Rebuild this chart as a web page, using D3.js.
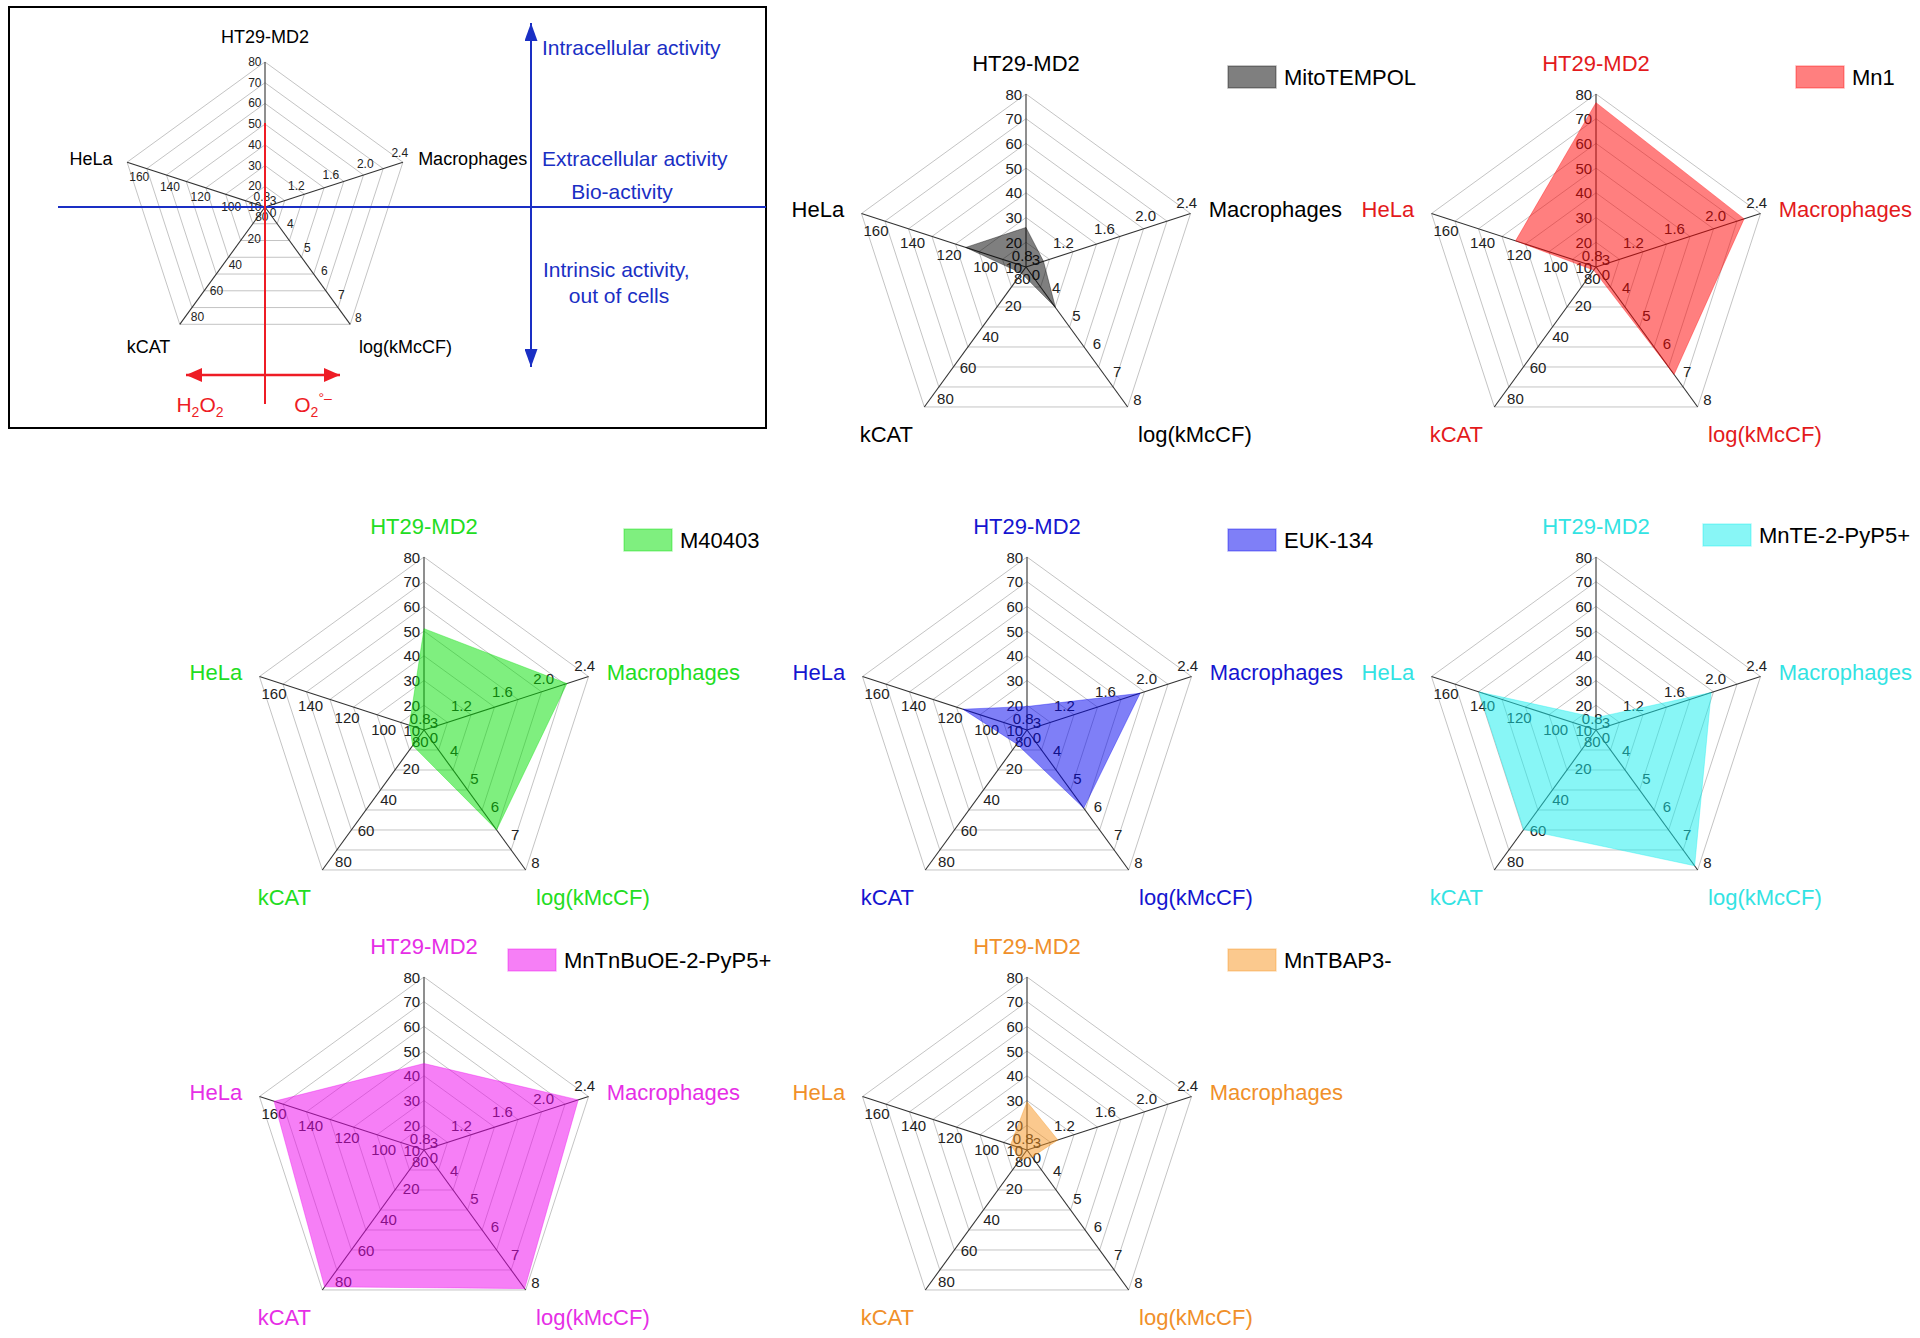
<!DOCTYPE html>
<html>
<head>
<meta charset="utf-8">
<script src="https://cdn.jsdelivr.net/npm/d3@7"></script>
<style>
  body { margin: 0; background: #fff; }
  svg { display: block; }
  text { font-family: "Liberation Sans", Arial, sans-serif; }
</style>
</head>
<body>
<svg id="chart" width="1920" height="1338"></svg>
<script>
// ----- DATA -----
var axisNames = ["HT29-MD2", "Macrophages", "log(kMcCF)", "kCAT", "HeLa"];
var axisMin = [10, 0.8, 3, 0, 80];
var axisMax = [80, 2.4, 8, 90, 170];
var axisTicks = [
    [10, 20, 30, 40, 50, 60, 70, 80],
    [0.8, 1.2, 1.6, 2.0, 2.4],
    [3, 4, 5, 6, 7, 8],
    [0, 20, 40, 60, 80],
    [80, 100, 120, 140, 160]
];
var compounds = ["MitoTEMPOL", "Mn1", "M40403", "EUK-134", "MnTE-2-PyP5+", "MnTnBuOE-2-PyP5+", "MnTBAP3-"];
// values in axis order: HT29-MD2, Macrophages, log(kMcCF), kCAT, HeLa
var mitoTempol = [26, 0.97, 4.45, 4, 113];
var mn1 = [76.5, 2.24, 6.84, 2, 124];
var m40403 = [51, 2.19, 6.57, 10, 88];
var euk134 = [19.5, 1.9, 5.79, 9, 115];
var mnTE = [15, 1.92, 7.85, 64, 144];
var mnTnBuOE = [45, 2.3, 7.95, 88, 162];
var mnTBAP = [29.5, 1.1, 3.25, 6, 89];
var seriesValues = [mitoTempol, mn1, m40403, euk134, mnTE, mnTnBuOE, mnTBAP];
var fillColors = ["#000000", "#ff0000", "#00e000", "#0000f0", "#11eeee", "#ee00ee", "#f7941d"];
var labelColors = ["#000000", "#e31a1c", "#22dd22", "#1515d0", "#33e3e3", "#e62ee6", "#f0902a"];

// ----- LAYOUT -----
var svg = d3.select("#chart");
var panels = [
    {cx: 1026, cy: 267, legDx: 202, legDy: 0},
    {cx: 1596, cy: 267, legDx: 200, legDy: 0},
    {cx: 424, cy: 730, legDx: 200, legDy: 0},
    {cx: 1027, cy: 730, legDx: 201, legDy: 0},
    {cx: 1596, cy: 730, legDx: 107, legDy: -5},
    {cx: 424, cy: 1150, legDx: 84, legDy: 0},
    {cx: 1027, cy: 1150, legDx: 201, legDy: 0}
];
var angles = axisNames.map(function(d, i) { return -Math.PI / 2 + i * 2 * Math.PI / 5; });

function drawRadar(g, o) {
    var R = o.R;
    var scales = axisNames.map(function(d, i) {
        return d3.scaleLinear().domain([axisMin[i], axisMax[i]]).range([0, R]);
    });
    function pt(i, r) {
        return [o.cx + r * Math.cos(angles[i]), o.cy + r * Math.sin(angles[i])];
    }

    // grid rings
    var rings = d3.range(1, 8).map(function(k) { return k / 7 * R; });
    g.selectAll(".ring").data(rings).enter().append("path")
        .attr("d", function(r) {
            return "M" + angles.map(function(a, i) { return pt(i, r).join(","); }).join("L") + "Z";
        })
        .attr("fill", "none")
        .attr("stroke", "#c4c4c4")
        .attr("stroke-width", 1);

    // spokes
    g.selectAll(".spoke").data(axisNames).enter().append("line")
        .attr("x1", o.cx).attr("y1", o.cy)
        .attr("x2", function(d, i) { return pt(i, R)[0]; })
        .attr("y2", function(d, i) { return pt(i, R)[1]; })
        .attr("stroke", "#333")
        .attr("stroke-width", 1.1);

    // tick labels, one scale per axis
    var off = 0.07 * R;
    axisNames.forEach(function(name, i) {
        var ux = Math.cos(angles[i]), uy = Math.sin(angles[i]);
        var px = uy, py = -ux;
        var fmt = i == 1 ? d3.format(".1f") : d3.format("d");
        g.selectAll(".tick" + i).data(axisTicks[i]).enter().append("text")
            .attr("x", function(v) { return pt(i, scales[i](v))[0] + px * off; })
            .attr("y", function(v) { return pt(i, scales[i](v))[1] + py * off; })
            .attr("text-anchor", "middle")
            .attr("dominant-baseline", "central")
            .attr("font-size", o.tickFont)
            .attr("fill", "#222")
            .text(fmt);
    });

    // data polygon
    if (o.values) {
        g.append("path")
            .attr("d", d3.line()(o.values.map(function(v, i) { return pt(i, scales[i](v)); })) + "Z")
            .attr("fill", o.fill)
            .attr("fill-opacity", 0.5)
            .attr("stroke", o.fill)
            .attr("stroke-opacity", 0.35)
            .attr("stroke-width", 1);
    }

    // axis names
    var top = pt(0, R), mac = pt(1, R), lg = pt(2, R), kc = pt(3, R), he = pt(4, R);
    var lab = [
        {t: axisNames[0], x: top[0], y: top[1] - 0.174 * R, a: "middle"},
        {t: axisNames[1], x: mac[0] + 0.105 * R, y: mac[1] - 0.025 * R, a: "start"},
        {t: axisNames[2], x: lg[0] + 0.06 * R, y: lg[1] + 0.157 * R, a: "start"},
        {t: axisNames[3], x: kc[0] - 0.065 * R, y: kc[1] + 0.157 * R, a: "end"},
        {t: axisNames[4], x: he[0] - 0.1 * R, y: he[1] - 0.025 * R, a: "end"}
    ];
    g.selectAll(".axlab").data(lab).enter().append("text")
        .attr("x", function(d) { return d.x; })
        .attr("y", function(d) { return d.y; })
        .attr("text-anchor", function(d) { return d.a; })
        .attr("dominant-baseline", "central")
        .attr("font-size", o.labelFont)
        .attr("fill", o.labelColor)
        .text(function(d) { return d.t; });
}

// ----- SCHEMATIC INSET -----
var inset = svg.append("g");
inset.append("rect")
    .attr("x", 9).attr("y", 7).attr("width", 757).attr("height", 421)
    .attr("fill", "none").attr("stroke", "#000").attr("stroke-width", 2);

drawRadar(inset, {cx: 265, cy: 207, R: 145, tickFont: 12, labelFont: 18, labelColor: "#000"});

var blue = "#1a2fc4", red = "#ee1c25";
var defs = svg.append("defs");
function arrowHead(id, color, w, h) {
    defs.append("marker")
        .attr("id", id)
        .attr("viewBox", "0 0 " + w + " " + h)
        .attr("refX", w).attr("refY", h / 2)
        .attr("markerWidth", w).attr("markerHeight", h)
        .attr("markerUnits", "userSpaceOnUse")
        .attr("orient", "auto-start-reverse")
        .append("path")
        .attr("d", "M0,0L" + w + "," + (h / 2) + "L0," + h + "Z")
        .attr("fill", color);
}
arrowHead("blueHead", blue, 18, 13);
arrowHead("redHead", red, 16, 14);

// blue axes of the schematic
inset.append("line")
    .attr("x1", 58).attr("y1", 207).attr("x2", 766).attr("y2", 207)
    .attr("stroke", blue).attr("stroke-width", 2);
inset.append("line")
    .attr("x1", 531).attr("y1", 23).attr("x2", 531).attr("y2", 367)
    .attr("stroke", blue).attr("stroke-width", 2)
    .attr("marker-start", "url(#blueHead)")
    .attr("marker-end", "url(#blueHead)");

var blueText = [
    {t: "Intracellular activity", x: 542, y: 47, a: "start"},
    {t: "Extracellular activity", x: 542, y: 158, a: "start"},
    {t: "Bio-activity", x: 622, y: 191, a: "middle"},
    {t: "Intrinsic activity,", x: 543, y: 269, a: "start"},
    {t: "out of cells", x: 619, y: 295, a: "middle"}
];
inset.selectAll(".bt").data(blueText).enter().append("text")
    .attr("x", function(d) { return d.x; })
    .attr("y", function(d) { return d.y; })
    .attr("text-anchor", function(d) { return d.a; })
    .attr("dominant-baseline", "central")
    .attr("font-size", 21)
    .attr("fill", blue)
    .text(function(d) { return d.t; });

// red H2O2 / O2 arrows
inset.append("line")
    .attr("x1", 265).attr("y1", 123).attr("x2", 265).attr("y2", 404)
    .attr("stroke", red).attr("stroke-width", 2);
inset.append("line")
    .attr("x1", 186).attr("y1", 375).attr("x2", 340).attr("y2", 375)
    .attr("stroke", red).attr("stroke-width", 2.5)
    .attr("marker-start", "url(#redHead)")
    .attr("marker-end", "url(#redHead)");

var h2o2 = inset.append("text").attr("x", 200).attr("y", 412)
    .attr("text-anchor", "middle").attr("font-size", 21).attr("fill", red);
h2o2.append("tspan").text("H");
h2o2.append("tspan").attr("font-size", 14).attr("dy", 5).text("2");
h2o2.append("tspan").attr("dy", -5).text("O");
h2o2.append("tspan").attr("font-size", 14).attr("dy", 5).text("2");

var o2 = inset.append("text").attr("x", 313).attr("y", 412)
    .attr("text-anchor", "middle").attr("font-size", 21).attr("fill", red);
o2.append("tspan").text("O");
o2.append("tspan").attr("font-size", 14).attr("dy", 5).text("2");
o2.append("tspan").attr("font-size", 14).attr("dy", -14).text("°–");

// ----- COMPOUND PANELS -----
compounds.forEach(function(name, k) {
    var p = panels[k];
    var g = svg.append("g");
    drawRadar(g, {
        cx: p.cx, cy: p.cy, R: 173, tickFont: 15, labelFont: 22,
        labelColor: labelColors[k], values: seriesValues[k], fill: fillColors[k]
    });
    var lx = p.cx + p.legDx, ly = p.cy - 201 + p.legDy;
    g.append("rect")
        .attr("x", lx).attr("y", ly).attr("width", 48).attr("height", 22)
        .attr("fill", fillColors[k]).attr("fill-opacity", 0.5)
        .attr("stroke", fillColors[k]).attr("stroke-opacity", 0.3).attr("stroke-width", 1.5);
    g.append("text")
        .attr("x", lx + 56).attr("y", ly + 11)
        .attr("dominant-baseline", "central")
        .attr("font-size", 22)
        .attr("fill", "#000")
        .text(name);
});
</script>
</body>
</html>
